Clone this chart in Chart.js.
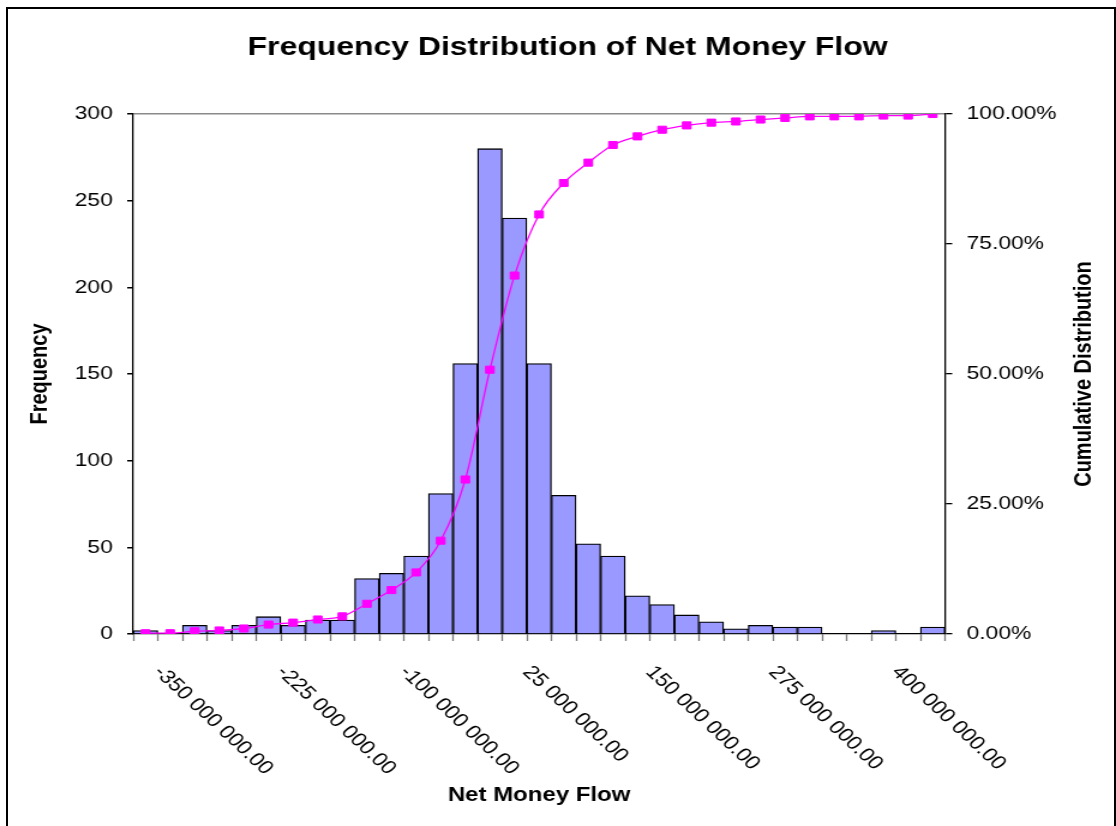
<!DOCTYPE html>
<html><head><meta charset="utf-8">
<script src="https://cdn.jsdelivr.net/npm/chart.js@4/dist/chart.umd.min.js"></script>
<style>
html,body{margin:0;padding:0;background:#fff;overflow:hidden;width:1116px;height:826px;}
#wrap{position:absolute;left:0;top:0;width:930px;height:826px;transform:scaleX(1.2);transform-origin:0 0;}
#frame{position:absolute;left:6px;top:7px;width:1110px;height:840px;border:2px solid #000;box-sizing:border-box;pointer-events:none;}
</style></head><body>
<div id="wrap"><canvas id="c"></canvas></div>
<div id="frame"></div>
<script>
// ---- data ----
const binLabels = [
  "-350 000 000.00","-325 000 000.00","-300 000 000.00","-275 000 000.00","-250 000 000.00",
  "-225 000 000.00","-200 000 000.00","-175 000 000.00","-150 000 000.00","-125 000 000.00",
  "-100 000 000.00","-75 000 000.00","-50 000 000.00","-25 000 000.00","0.00",
  "25 000 000.00","50 000 000.00","75 000 000.00","100 000 000.00","125 000 000.00",
  "150 000 000.00","175 000 000.00","200 000 000.00","225 000 000.00","250 000 000.00",
  "275 000 000.00","300 000 000.00","325 000 000.00","350 000 000.00","375 000 000.00",
  "400 000 000.00","425 000 000.00","450 000 000.00"
];
const frequency = [2,0,5,2,5,10,5,8,8,32,35,45,81,156,280,240,156,80,52,45,22,17,11,7,3,5,4,4,0,0,2,0,4];
const cumulativePct = [0.15,0.15,0.53,0.68,1.06,1.81,2.19,2.79,3.39,5.81,8.45,11.84,17.95,29.71,50.83,68.93,80.69,86.73,90.65,94.04,95.70,96.98,97.81,98.34,98.57,98.94,99.25,99.55,99.55,99.55,99.70,99.70,100.00];
const labelEvery = 5;
const chartTitle = "Frequency Distribution of Net Money Flow";
const xTitle = "Net Money Flow";
const yTitle = "Frequency";
const y1Title = "Cumulative Distribution";

const FONT = '"Liberation Sans", Arial, sans-serif';

const xLabelPlugin = {
  id: 'xLabelPlugin',
  afterDraw(chart) {
    const xs = chart.scales.x, ctx = chart.ctx;
    ctx.save();
    ctx.font = '19px ' + FONT;
    ctx.fillStyle = '#000';
    ctx.textAlign = 'left';
    ctx.textBaseline = 'middle';
    for (let i = 0; i < binLabels.length; i++) {
      if (i % labelEvery !== 0) continue;
      const px = xs.getPixelForTick(i);
      ctx.save();
      ctx.translate(px + 10, xs.top + 35);
      ctx.rotate(48 * Math.PI / 180);
      ctx.fillText(binLabels[i], 0, 0);
      ctx.restore();
    }
    ctx.restore();
  }
};
const rightTitlePlugin = {
  id: 'rightTitlePlugin',
  afterDraw(chart) {
    const ctx = chart.ctx, a = chart.chartArea, s = chart.scales.y1;
    ctx.save();
    ctx.font = 'bold 20px ' + FONT;
    ctx.fillStyle = '#000';
    ctx.textAlign = 'center';
    ctx.textBaseline = 'middle';
    ctx.translate(s.right - 27, (a.top + a.bottom) / 2);
    ctx.rotate(-Math.PI / 2);
    ctx.fillText(y1Title, 0, 0);
    ctx.restore();
  }
};

new Chart(document.getElementById('c'), {
  type: 'bar',
  data: {
    labels: binLabels,
    datasets: [
      {
        type: 'line', label: 'Cumulative', data: cumulativePct, yAxisID: 'y1', order: 0,
        borderColor: '#FF00FF', backgroundColor: '#FF00FF', borderWidth: 1.3,
        pointStyle: 'rect', pointRadius: 5, pointBorderWidth: 1,
        pointBackgroundColor: '#FF00FF', pointBorderColor: '#FF00FF',
        cubicInterpolationMode: 'monotone', fill: false
      },
      {
        type: 'bar', label: 'Frequency', data: frequency, yAxisID: 'y', order: 1,
        backgroundColor: '#9999FF', borderColor: '#000', borderWidth: 1.3,
        barPercentage: 1, categoryPercentage: 1
      }
    ]
  },
  options: {
    responsive: true, maintainAspectRatio: false, animation: false,
    layout: { padding: { top: 6, left: 16, right: 0, bottom: 0 } },
    plugins: {
      legend: { display: false },
      tooltip: { enabled: false },
      title: {
        display: true, text: chartTitle, color: '#000',
        font: { family: FONT, size: 26.6, weight: 'bold' },
        padding: { top: 26, bottom: 50.1 }
      }
    },
    scales: {
      x: {
        offset: true,
        grid: { offset: true, drawOnChartArea: false, drawTicks: true, tickLength: 7, color: '#7a7a7a', tickColor: '#7a7a7a', tickWidth: 1.3 },
        border: { color: '#000', width: 1.3 },
        ticks: { display: false, autoSkip: false },
        title: { display: true, text: xTitle, color: '#000', font: { family: FONT, size: 20, weight: 'bold' }, padding: { top: 0, bottom: 19 } },
        afterFit: s => { s.height = 192; }
      },
      y: {
        position: 'left', min: 0, max: 300,
        ticks: { stepSize: 50, color: '#000', font: { family: FONT, size: 19 }, padding: 12 },
        grid: {
          color: c => (c.tick && c.tick.value === 300) ? '#8a8a8a' : 'rgba(0,0,0,0)',
          tickColor: '#000', tickLength: 5, lineWidth: 1.5
        },
        border: { color: '#000', width: 1.3 },
        title: { display: true, text: yTitle, color: '#000', font: { family: FONT, size: 20, weight: 'bold' }, padding: { top: 5, bottom: 0 } },
        afterFit: s => { s.width = 95; }
      },
      y1: {
        position: 'right', min: 0, max: 100,
        ticks: { stepSize: 25, color: '#000', font: { family: FONT, size: 19 }, padding: 12, callback: v => v.toFixed(2) + '%' },
        grid: { drawOnChartArea: false, tickColor: '#000', tickLength: 6, lineWidth: 1.3 },
        border: { color: '#000', width: 1.3 },
        afterFit: s => { s.width = 142.5; }
      }
    }
  },
  plugins: [xLabelPlugin, rightTitlePlugin]
});
</script>
</body></html>
